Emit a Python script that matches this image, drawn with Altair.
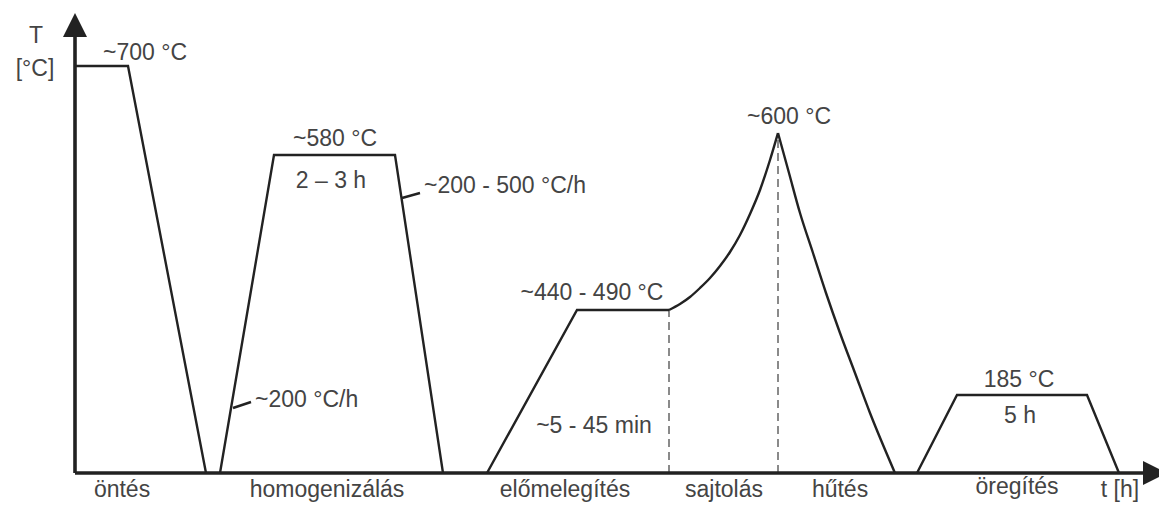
import altair as alt
import pandas as pd

# ---- schematic profile (t = schematic time units, T = schematic temperature level) ----
casting_t = [0, 53, 131]
casting_T = [407, 407, 0]
homog_t = [145, 199, 320, 368]
homog_T = [0, 318, 318, 0]
preheat_t = [412, 502, 594]
preheat_T = [0, 163, 163]
aging_t = [842, 882, 1012, 1044]
aging_T = [0, 78, 78, 0]
leader1_t = [158, 176]
leader1_T = [65, 71]
leader2_t = [327, 345]
leader2_T = [275, 280]

# curved parts (pressing heat-up and cooling)
press_t = [594, 605, 615, 625, 635, 645, 655, 665, 675, 685, 695, 703]
press_T = [163, 169, 176, 185, 195, 207, 221, 238, 259, 283, 313, 340]
cool_t = [703, 714, 725, 738, 751, 765, 780, 795, 820]
cool_T = [340, 300, 260, 220, 180, 140, 100, 60, 0]

# dashed separators
dash_t = [594, 703]
dash_top = [163, 340]

# axes
axis_y_t = [0, 0]
axis_y_T = [0, 440]
axis_x_t = [0, 1075]
axis_x_T = [0, 0]
arrow_up = (0, 448)
arrow_right = (1080, 0)

# labels
center_labels = ["T", "[°C]", "~700 °C", "~580 °C", "2 – 3 h", "~440 - 490 °C", "~600 °C",
                 "~5 - 45 min", "185 °C", "5 h", "öntés", "homogenizálás", "előmelegítés",
                 "sajtolás", "hűtés", "öregítés", "t [h]"]
center_t = [-39, -40, 70, 260, 256, 517, 714, 519, 944, 945, 47, 252, 490, 649, 765, 942, 1045]
center_T = [430, 397, 413, 327, 285, 173, 349, 40, 86, 50, -24, -24, -24, -24, -24, -21, -24]
left_labels = ["~200 - 500 °C/h", "~200 °C/h"]
left_t = [349, 180]
left_T = [280, 66]

FONT = "Liberation Sans, Arial, sans-serif"
FS = 23
TXT = "#444444"
LINE = "#222222"


def segs(pairs):
    rows = []
    for name, ts, Ts in pairs:
        for i, (a, b) in enumerate(zip(ts, Ts)):
            rows.append({"seg": name, "i": i, "t": a, "T": b})
    return pd.DataFrame(rows)


xs = alt.Scale(domain=[-67, 1084], nice=False, zero=False)
ys = alt.Scale(domain=[-30, 465], nice=False, zero=False)
X = alt.X("t:Q", scale=xs, axis=None)
Y = alt.Y("T:Q", scale=ys, axis=None)

straight_df = segs([("cast", casting_t, casting_T), ("homog", homog_t, homog_T),
                    ("pre", preheat_t, preheat_T), ("age", aging_t, aging_T),
                    ("l1", leader1_t, leader1_T), ("l2", leader2_t, leader2_T)])
curve_df = segs([("press", press_t, press_T), ("cool", cool_t, cool_T)])
axis_df = segs([("ay", axis_y_t, axis_y_T), ("ax", axis_x_t, axis_x_T)])

straight = alt.Chart(straight_df).mark_line(color=LINE, strokeWidth=2.4).encode(
    x=X, y=Y, detail="seg:N", order="i:Q")
curves = alt.Chart(curve_df).mark_line(color=LINE, strokeWidth=2.4, interpolate="monotone").encode(
    x=X, y=Y, detail="seg:N", order="i:Q")
axes = alt.Chart(axis_df).mark_line(color=LINE, strokeWidth=3.6).encode(
    x=X, y=Y, detail="seg:N", order="i:Q")

up_df = pd.DataFrame({"t": [arrow_up[0]], "T": [arrow_up[1]]})
right_df = pd.DataFrame({"t": [arrow_right[0]], "T": [arrow_right[1]]})
head_up = alt.Chart(up_df).mark_point(shape="M0,-1L1,1L-1,1Z", size=576, filled=True,
                                      color=LINE, opacity=1, strokeWidth=0).encode(x=X, y=Y)
head_right = alt.Chart(right_df).mark_point(shape="M1,0L-1,-1L-1,1Z", size=576, filled=True,
                                            color=LINE, opacity=1, strokeWidth=0).encode(x=X, y=Y)

dash_df = pd.DataFrame({"t": dash_t, "T": [0, 0], "T2": dash_top})
dashes = alt.Chart(dash_df).mark_rule(color="#8a8a8a", strokeWidth=2, strokeDash=[8, 5]).encode(
    x=X, y=Y, y2="T2:Q")

cdf = pd.DataFrame({"label": center_labels, "t": center_t, "T": center_T})
ldf = pd.DataFrame({"label": left_labels, "t": left_t, "T": left_T})
ctext = alt.Chart(cdf).mark_text(font=FONT, fontSize=FS, color=TXT, align="center",
                                 baseline="alphabetic").encode(x=X, y=Y, text="label:N")
ltext = alt.Chart(ldf).mark_text(font=FONT, fontSize=FS, color=TXT, align="left",
                                 baseline="alphabetic").encode(x=X, y=Y, text="label:N")

chart = alt.layer(dashes, straight, curves, axes, head_up, head_right, ctext, ltext).properties(
    width=1151, height=495, padding=0, autosize=alt.AutoSizeParams(type="none"),
    background="white"
).configure_view(stroke=None)

chart.save("out.html", embed_options={"renderer": "svg", "actions": False})
